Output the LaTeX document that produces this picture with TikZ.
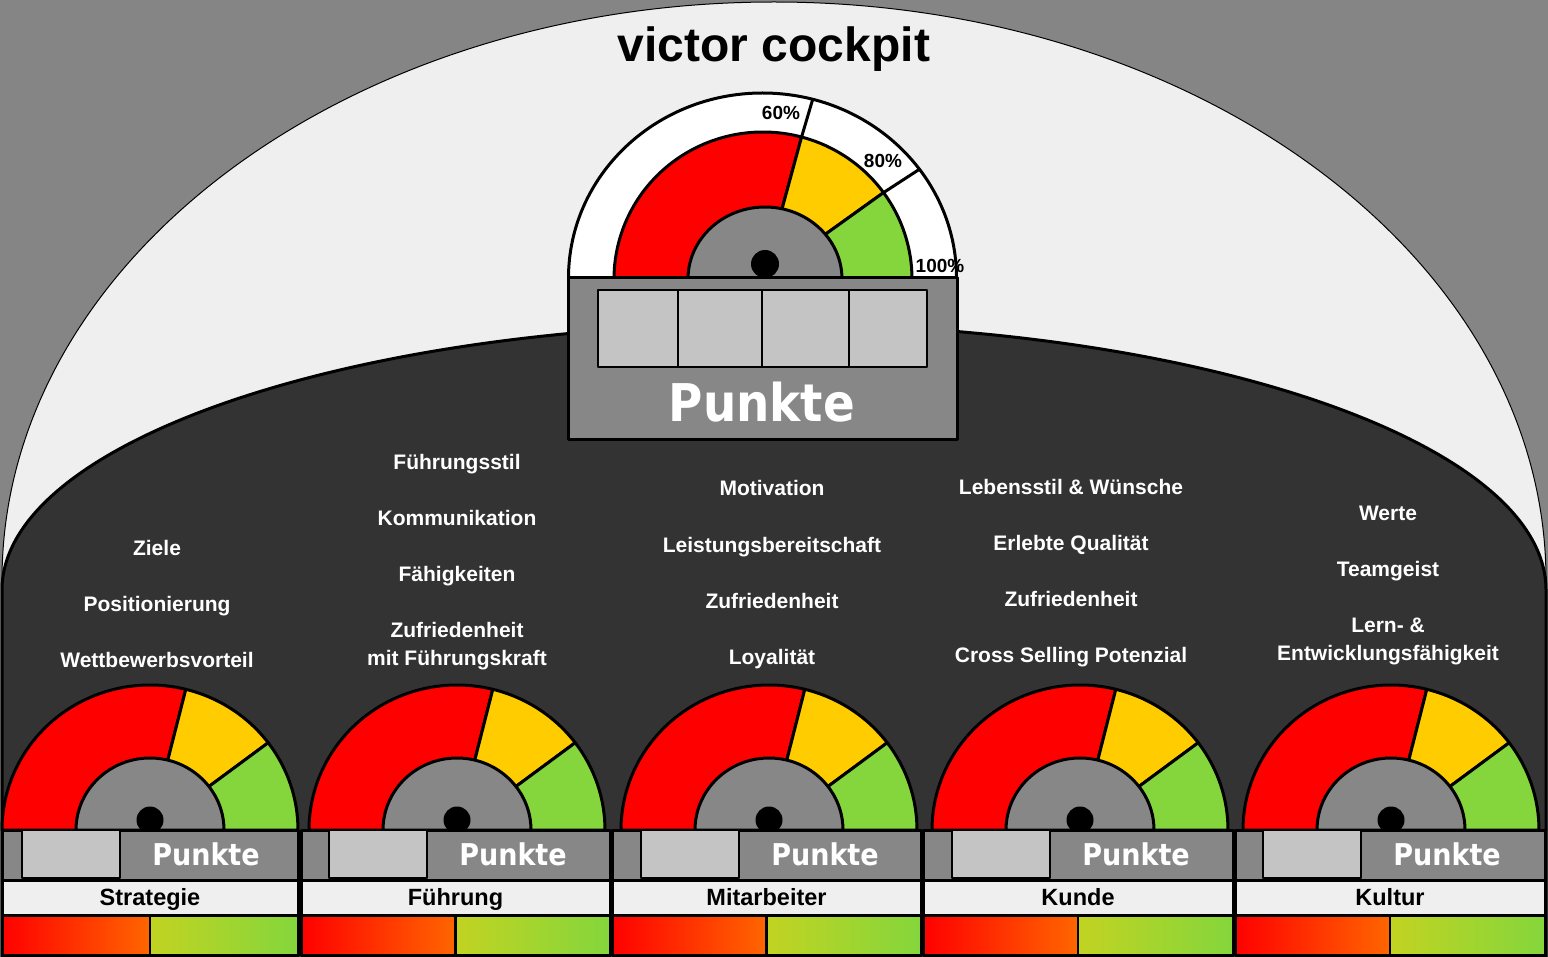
\documentclass[tikz,border=0pt]{standalone}
\usepackage{fontspec}
\setmainfont{Liberation Sans}
\newfontfamily\pfont{DejaVu Sans}[FakeStretch=0.9]
\definecolor{bggray}{HTML}{858585}
\definecolor{lightbg}{HTML}{EFEFEF}
\definecolor{darkbg}{HTML}{333333}
\definecolor{mgray}{HTML}{878787}
\definecolor{cellgray}{HTML}{C4C4C4}
\definecolor{gred}{HTML}{FF0000}
\definecolor{gyel}{HTML}{FFCC00}
\definecolor{ggrn}{HTML}{84D63C}
\definecolor{orng}{HTML}{FF6600}
\definecolor{ygrn}{HTML}{C2D322}
\tikzset{
  thick3/.style={line width=3pt},
  cattext/.style={anchor=base, text=white, font=\bfseries\fontsize{21}{21}\selectfont, inner sep=0pt},
  labtext/.style={anchor=base, text=black, font=\bfseries\fontsize{23.5}{23.5}\selectfont, inner sep=0pt},
  pktsmall/.style={anchor=base, text=white, font=\pfont\bfseries\fontsize{30}{30}\selectfont, inner sep=0pt},
  pktbig/.style={anchor=base, text=white, font=\pfont\bfseries\fontsize{52}{52}\selectfont, inner sep=0pt},
  pcttext/.style={text=black, font=\bfseries\fontsize{19}{19}\selectfont, inner sep=0pt},
}
\begin{document}
\begin{tikzpicture}[x=1pt,y=-1pt,line join=round]
\useasboundingbox (0,0) rectangle (1548,957);
\clip (0,0) rectangle (1548,957);
\fill[bggray] (0,0) rectangle (1548,957);
% light dome
\draw[fill=lightbg, line width=1pt] (774,580) ellipse [x radius=772, y radius=578];
% dark shape
\draw[fill=darkbg, thick3] (2,970) -- (2,590) arc[start angle=180, end angle=360, x radius=772, y radius=266] -- (1546,970) -- cycle;
% title
\node[anchor=base, font=\bfseries\fontsize{48}{48}\selectfont, inner sep=0pt] (title) at (774,62) {victor cockpit};

% ---- top gauge ----
\coordinate (tc) at (763,279);
\draw[fill=white, thick3] (568.5,278) arc[start angle=180, end angle=360, x radius=194, y radius=185] -- cycle;
\draw[fill=gred, thick3] (tc) -- +(180:149 and 147) arc[start angle=180, end angle=285, x radius=149, y radius=147] -- cycle;
\draw[fill=gyel, thick3] (tc) -- +(285:149 and 147) arc[start angle=285, end angle=324, x radius=149, y radius=147] -- cycle;
\draw[fill=ggrn, thick3] (tc) -- +(324:149 and 147) arc[start angle=324, end angle=360, x radius=149, y radius=147] -- cycle;
\draw[thick3] ([shift={(285:149 and 147)}]tc) -- ([shift={(285:194 and 185)}]762.5,278);
\draw[thick3] ([shift={(324:149 and 147)}]tc) -- ([shift={(324:194 and 185)}]762.5,278);
\draw[fill=mgray, thick3] (688,279) arc[start angle=180, end angle=360, x radius=77, y radius=72] -- cycle;
\fill (765,264) circle[radius=14];
\node[pcttext] (p60) at (781,113) {60\%};
\node[pcttext] (p80) at (883,161) {80\%};
\node[pcttext] (p100) at (940,266) {100\%};
\draw[fill=mgray, thick3] (568,278) rectangle (957,440);
\draw[fill=cellgray, line width=2.5pt] (598,290) rectangle (927,367);
\foreach \xx in {678,762,849} \draw[line width=2.5pt] (\xx,290) -- (\xx,367);
\node[pktbig] (pbig) at (762,422) {Punkte};

% ---- category texts ----
\node[cattext] (a1) at (157,555) {Ziele};
\node[cattext] (a2) at (157,611) {Positionierung};
\node[cattext] (a3) at (157,667) {Wettbewerbsvorteil};
\node[cattext] (b1) at (457,469) {Führungsstil};
\node[cattext] (b2) at (457,525) {Kommunikation};
\node[cattext] (b3) at (457,581) {Fähigkeiten};
\node[cattext] (b4) at (457,637) {Zufriedenheit};
\node[cattext] (b5) at (457,665) {mit Führungskraft};
\node[cattext] (c1) at (772,496) {Motivation};
\node[cattext] (c2) at (772,552) {Leistungsbereitschaft};
\node[cattext] (c3) at (772,608) {Zufriedenheit};
\node[cattext] (c4) at (772,664) {Loyalität};
\node[cattext] (d1) at (1071,494) {Lebensstil \& Wünsche};
\node[cattext] (d2) at (1071,550) {Erlebte Qualität};
\node[cattext] (d3) at (1071,606) {Zufriedenheit};
\node[cattext] (d4) at (1071,662) {Cross Selling Potenzial};
\node[cattext] (e1) at (1388,520) {Werte};
\node[cattext] (e2) at (1388,576) {Teamgeist};
\node[cattext] (e3) at (1388,632) {Lern- \&};
\node[cattext] (e4) at (1388,660) {Entwicklungsfähigkeit};

% ---- small gauges ----
\foreach \c/\L/\R/\lab/\n in {150/2/298/Strategie/s, 457/301/610/Führung/f, 769/612/921/Mitarbeiter/m, 1080/923/1233/Kunde/k, 1391/1235/1545/Kultur/u}{
  \pgfmathsetmacro\M{(\L+\R)/2}
  \coordinate (g\n) at (\c,830);
  \draw[fill=gred, thick3] (g\n) -- +(180:148 and 145) arc[start angle=180, end angle=284, x radius=148, y radius=145] -- cycle;
  \draw[fill=gyel, thick3] (g\n) -- +(284:148 and 145) arc[start angle=284, end angle=323, x radius=148, y radius=145] -- cycle;
  \draw[fill=ggrn, thick3] (g\n) -- +(323:148 and 145) arc[start angle=323, end angle=360, x radius=148, y radius=145] -- cycle;
  \draw[fill=mgray, thick3] (\c-74,830) arc[start angle=180, end angle=360, x radius=74, y radius=72] -- cycle;
  \fill (\c,820) circle[radius=13.5];
  \draw[fill=mgray, thick3] (\L,830) rectangle (\R,880);
  \draw[fill=cellgray, line width=2.5pt] (\c-128,830) rectangle (\c-30,878);
  \node[pktsmall] (pk\n) at (\c+56,865) {Punkte};
  \draw[fill=lightbg, thick3] (\L,880) rectangle (\R,915);
  \node[labtext] (lab\n) at (\M,905) {\lab};
  \shade[left color=gred, right color=orng] (\L,915) rectangle (\M,955);
  \shade[left color=ygrn, right color=ggrn] (\M,915) rectangle (\R,955);
  \draw[thick3] (\L,915) rectangle (\R,955);
  \draw[line width=2.5pt] (\M,915) -- (\M,955);
}
\end{tikzpicture}
\end{document}
